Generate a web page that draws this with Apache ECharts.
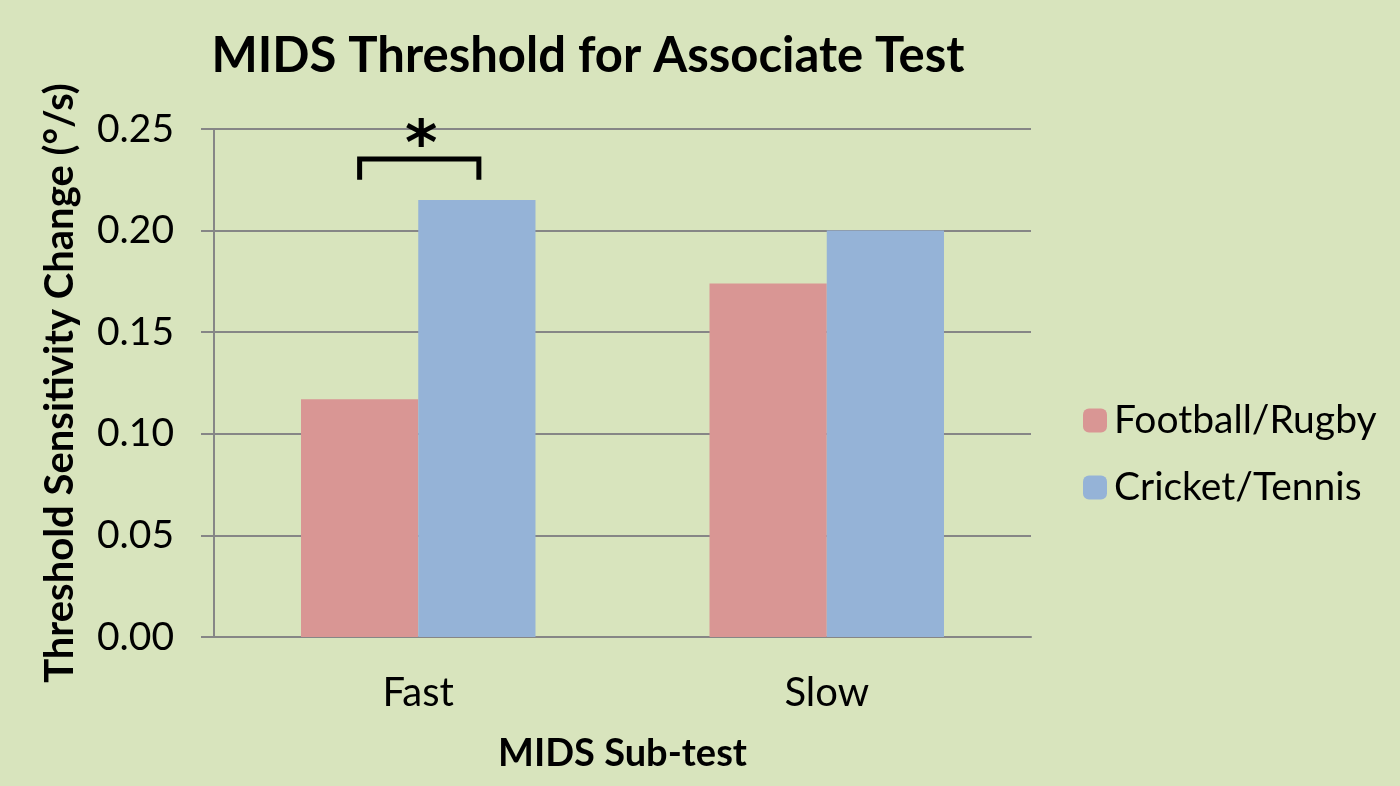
<!DOCTYPE html>
<html>
<head>
    <meta charset="utf-8">
    <title>MIDS Threshold for Associate Test</title>
    <script src="https://cdn.jsdelivr.net/npm/echarts@6/dist/echarts.min.js"></script>
    <style>
        html, body { margin: 0; padding: 0; background: #d8e4bd; }
        #main { width: 1400px; height: 786px; }
    </style>
</head>
<body>
<div id="main"></div>
<script type="text/javascript">
    var categories = ['Fast', 'Slow'];
    var footballRugby = [0.117, 0.174];
    var cricketTennis = [0.215, 0.200];
    var yTicks = [0, 0.05, 0.10, 0.15, 0.20, 0.25];
    // significance bracket over Fast: top value and leg bottom value
    var sigTop = 0.2352;
    var sigLeg = 0.2250;

    var font = 'Lato, "Open Sans", sans-serif';
    var myChart = echarts.init(document.getElementById('main'));

    myChart.setOption({
        backgroundColor: '#d8e4bd',
        textStyle: { fontFamily: font, color: '#000' },
        title: {
            text: 'MIDS Threshold for Associate Test',
            left: 583,
            textAlign: 'center',
            top: 27,
            textStyle: { fontSize: 49, fontWeight: 'bold', color: '#000', fontFamily: font }
        },
        legend: {
            orient: 'vertical',
            left: 1078,
            top: 396,
            itemWidth: 24,
            itemHeight: 24,
            itemGap: 28,
            data: ['Football/Rugby', 'Cricket/Tennis'],
            textStyle: { fontSize: 39, color: '#000', fontFamily: font, padding: [0, 0, 0, 2] }
        },
        grid: { left: 214, right: 369, top: 129, bottom: 149 },
        xAxis: {
            type: 'category',
            data: categories,
            name: 'MIDS Sub-test',
            nameLocation: 'middle',
            nameGap: 98,
            nameTextStyle: { fontSize: 38, fontWeight: 'bold', color: '#000' },
            axisLine: { lineStyle: { color: '#868686', width: 2 } },
            axisTick: { length: 14, lineStyle: { color: '#868686', width: 2 } },
            axisLabel: { fontSize: 40, color: '#000', margin: 36 }
        },
        yAxis: {
            type: 'value',
            min: yTicks[0],
            max: yTicks[yTicks.length - 1],
            interval: 0.05,
            name: 'Threshold Sensitivity Change (°/s)',
            nameLocation: 'middle',
            nameGap: 134,
            nameTextStyle: { fontSize: 40, fontWeight: 'bold', color: '#000' },
            axisLine: { show: true, lineStyle: { color: '#868686', width: 2 } },
            axisTick: { show: true, length: 13, lineStyle: { color: '#868686', width: 2 } },
            axisLabel: {
                fontSize: 39, color: '#000', margin: 40,
                formatter: function (v) { return v.toFixed(2); }
            },
            splitLine: { lineStyle: { color: '#868686', width: 2 } }
        },
        series: [{
            name: 'Football/Rugby',
            type: 'bar',
            data: footballRugby,
            barGap: '0%',
            barCategoryGap: '42.6%',
            itemStyle: { color: '#d99694' }
        }, {
            name: 'Cricket/Tennis',
            type: 'bar',
            data: cricketTennis,
            itemStyle: { color: '#95b3d7' }
        }]
    });

    // bracket + asterisk, placed from the axis scales
    function drawSig() {
        var c = myChart.convertToPixel({ xAxisIndex: 0 }, categories[0]);
        var bw = Math.abs(myChart.getModel().getSeriesByIndex(0).getData().getLayout('size') || 117);
        var yT = myChart.convertToPixel({ yAxisIndex: 0 }, sigTop);
        var yL = myChart.convertToPixel({ yAxisIndex: 0 }, sigLeg);
        var x1 = c - 0.5 * bw;
        var x2 = c + 0.5 * bw + 2;
        myChart.setOption({
            graphic: [{
                type: 'polyline',
                shape: { points: [[x1, yL], [x1, yT], [x2, yT], [x2, yL]] },
                style: { stroke: '#000', lineWidth: 5, fill: null, lineJoin: 'miter' }
            }, {
                type: 'text',
                x: c + 3,
                y: yT + 20,
                style: {
                    text: '*', fontSize: 62, fontWeight: 'bold', fontFamily: '"DejaVu Sans"',
                    fill: '#000', align: 'center', verticalAlign: 'bottom'
                }
            }]
        });
    }
    drawSig();
</script>
</body>
</html>
